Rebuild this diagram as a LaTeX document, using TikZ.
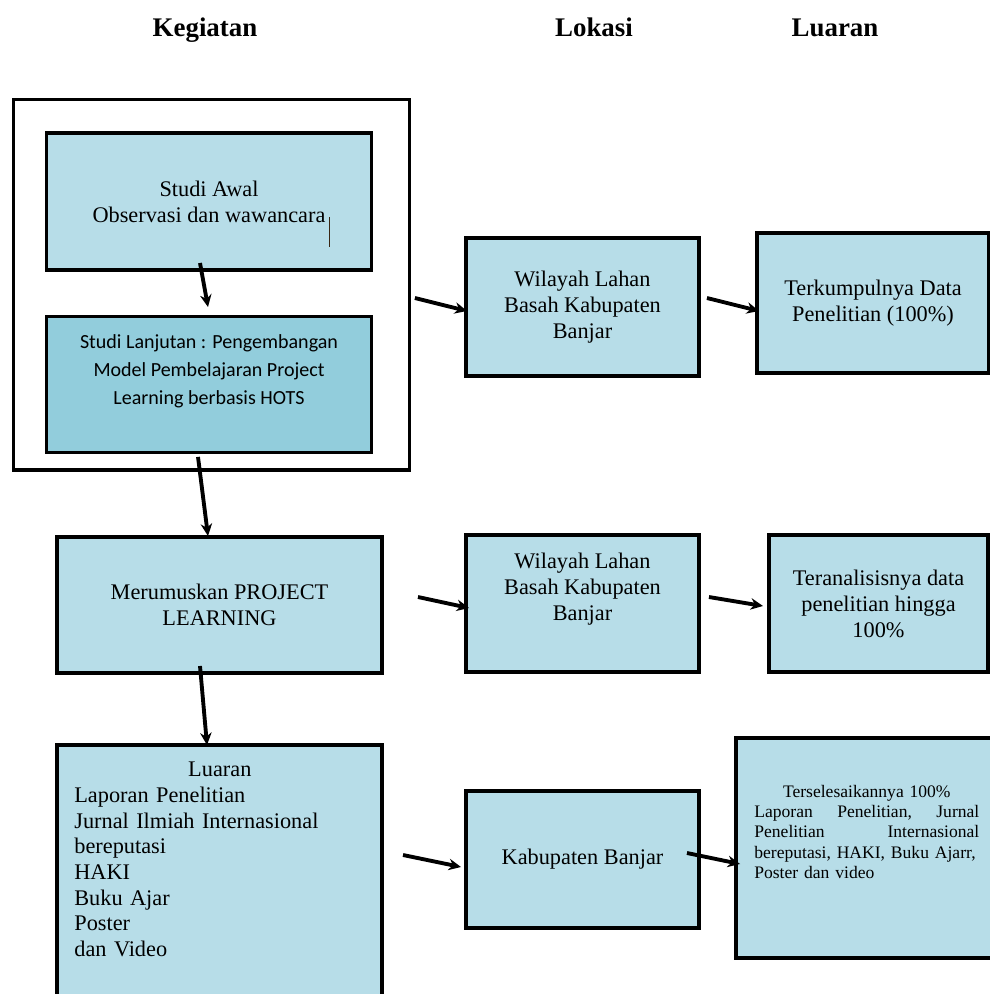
\documentclass[tikz,border=0pt]{standalone}
\usepackage{fontspec}
\setmainfont{Liberation Serif}
\newfontfamily\calfont{Carlito}
\usepackage{xcolor}
\usetikzlibrary{arrows.meta,positioning}

\definecolor{boxblue}{HTML}{B7DDE8}
\definecolor{darkblue}{HTML}{92CDDC}
\newcommand\bodyfont{\fontsize{12.7}{14.8}\selectfont}
\newcommand\headfont{\fontsize{15.3}{18}\selectfont\bfseries}
\newcommand\midline[1]{\hfill #1\hfill\null\\}

\tikzset{
	box/.style={draw, line width=1.8pt, fill=boxblue, inner sep=0pt, outer sep=0pt, align=center, font=\bodyfont},
	frame/.style={draw, line width=1.8pt, inner sep=0pt, outer sep=0pt},
	txt/.style={inner sep=0pt, font=\bodyfont},
	head/.style={inner sep=0pt, anchor=base, font=\headfont},
	arr/.style={line width=2.2pt, -{Stealth[length=7pt,width=6.5pt]}}
}

\begin{document}
\begin{tikzpicture}[x=0.02cm,y=-0.02cm]
	\useasboundingbox (0,0) rectangle (990,994);
	\clip (0,0) rectangle (990,994);

	% column heads
	\node[head] (hkeg) at (205,36) {Kegiatan};
	\node[head] (hlok) at (594,36) {Lokasi};
	\node[head] (hlua) at (835,36) {Luaran};

	% first row
	\node[frame, minimum width=7.93cm, minimum height=7.41cm] (outer) at (211.7,284.7) {};
	\node[box, minimum width=6.5cm, minimum height=2.74cm] (awal) at (209,201.5) {Studi Awal\\Observasi dan wawancara};
	\draw[line width=0.5pt, black!70!brown] (329,217) -- (329,247);
	\node[box, fill=darkblue, minimum width=6.5cm, minimum height=2.72cm] (lanjut) at (209,384.7) {};
	\node[txt, align=center, font=\calfont\fontsize{11.4}{15.9}\selectfont] (lanjuttxt) at (209,371)
		{Studi Lanjutan : Pengembangan\\Model Pembelajaran Project\\Learning berbasis HOTS};
	\node[box, minimum width=4.66cm, minimum height=2.76cm] (lok1) at (582.5,307) {Wilayah Lahan\\Basah Kabupaten\\Banjar};
	\node[box, minimum width=4.64cm, minimum height=2.8cm] (out1) at (873,303) {Terkumpulnya Data\\Penelitian (100\%)};

	% second row
	\node[box, minimum width=6.5cm, minimum height=2.72cm] (rumus) at (219.5,605) {Merumuskan PROJECT\\LEARNING};
	\node[box, minimum width=4.66cm, minimum height=2.74cm] (lok2) at (582.5,603.5) {};
	\node[txt, align=center] (lok2txt) at (582.5,589) {Wilayah Lahan\\Basah Kabupaten\\Banjar};
	\node[box, minimum width=4.38cm, minimum height=2.74cm] (out2) at (878.5,603.5) {Teranalisisnya data\\penelitian hingga\\100\%};

	% third row
	\node[box, minimum width=6.5cm, minimum height=5.3cm] (luaran) at (219.5,877.5) {};
	\node[txt, anchor=north west, text width=5.82cm, align=left, font=\fontsize{12.7}{14.6}\selectfont] (luarantxt) at (74,762)
		{\midline{Luaran}Laporan Penelitian\\Jurnal Ilmiah Internasional\\bereputasi\\HAKI\\Buku Ajar\\Poster\\dan Video};
	\node[box, minimum width=4.66cm, minimum height=2.74cm] (lok3) at (582.5,859.5) {Kabupaten Banjar};
	\node[box, minimum width=5.28cm, minimum height=4.4cm] (out3) at (868,848) {};
	\node[txt, anchor=north west, text width=4.5cm, align=left, font=\fontsize{10}{11.5}\selectfont] (out3txt) at (754,785)
		{\midline{Terselesaikannya 100\%}Laporan\hfill Penelitian,\hfill Jurnal\\Penelitian\hfill Internasional\\bereputasi, HAKI, Buku Ajarr,\\Poster dan video};

	% arrows
	\draw[arr] ([shift={(-9,-7)}]awal.south) -- ([shift={(-1,-9.7)}]lanjut.north);
	\draw[arr] ([shift={(5,13.3)}]outer.east) -- ([shift={(1,4)}]lok1.west);
	\draw[arr] ([shift={(8,-9)}]lok1.east) -- ([shift={(2,8)}]out1.west);
	\draw[arr] ([shift={(-13.7,-13)}]outer.south) -- ([shift={(-11.5,-1)}]rumus.north);
	\draw[arr] ([shift={(36,-8)}]rumus.east) -- ([shift={(3,4.5)}]lok2.west);
	\draw[arr] ([shift={(10,-6.5)}]lok2.east) -- ([shift={(-6,2.5)}]out2.west);
	\draw[arr] ([shift={(-19.5,-7)}]rumus.south) -- ([shift={(-12.5,0)}]luaran.north);
	\draw[arr] ([shift={(-63,-4.5)}]lok3.west) -- ([shift={(-5,7.5)}]lok3.west);
	\draw[arr] ([shift={(-12,-6.5)}]lok3.east) -- ([shift={(4,16)}]out3.west);
\end{tikzpicture}
\end{document}
